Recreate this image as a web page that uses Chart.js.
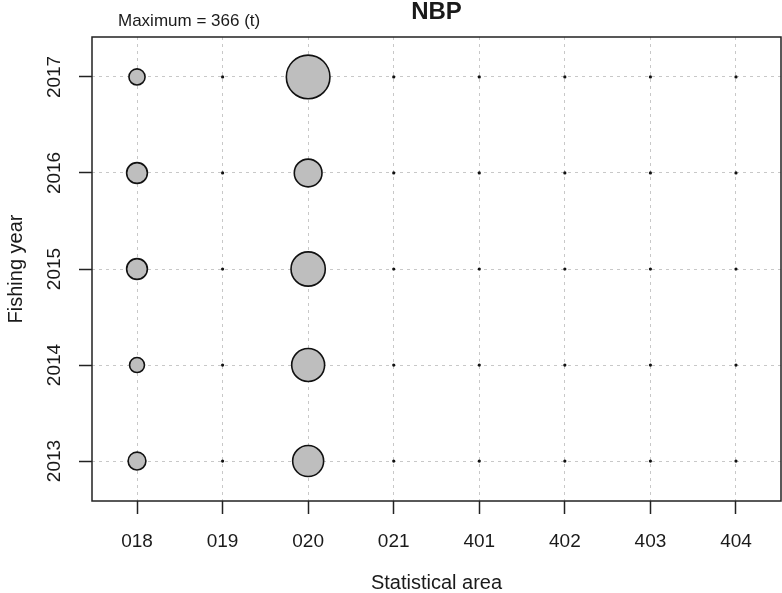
<!DOCTYPE html>
<html>
<head>
<meta charset="utf-8">
<script src="https://cdn.jsdelivr.net/npm/chart.js@4/dist/chart.umd.min.js"></script>
<style>
    body { margin: 0; background: #fff; }
    #wrap { width: 782px; height: 593px; }
</style>
</head>
<body>
<div id="wrap"><canvas id="myChart" width="782" height="593"></canvas></div>
<script>
// Dades: captura (t) per àrea estadística i any de pesca
const areas = ['018', '019', '020', '021', '401', '402', '403', '404'];
const years = [2013, 2014, 2015, 2016, 2017];

// un array per àrea, valors de 2013 a 2017
const area018 = [61, 43, 83, 83, 50];
const area019 = [0, 0, 0, 0, 0];
const area020 = [185, 209, 226, 148, 366];
const area021 = [0, 0, 0, 0, 0];
const area401 = [0, 0, 0, 0, 0];
const area402 = [0, 0, 0, 0, 0];
const area403 = [0, 0, 0, 0, 0];
const area404 = [0, 0, 0, 0, 0];

const catchByArea = [area018, area019, area020, area021, area401, area402, area403, area404];

const maxCatch = Math.max(...catchByArea.flat());
const maxRadius = 21.8; // radi del cercle més gran

const TEXT = '#1a1a1a';
const FONT = '"Liberation Sans", Arial, sans-serif';

// Construïm els punts per al gràfic de bombolles
const points = [];
catchByArea.forEach((values, i) => {
    values.forEach((v, j) => {
        points.push({
            x: i + 1,
            y: years[j],
            v: v,
            r: v > 0 ? maxRadius * Math.sqrt(v / maxCatch) : 1.6
        });
    });
});

// El controlador de bombolles afegeix marge pel radi màxim; aquí no el volem
const BubbleCtrl = Chart.registry.getController('bubble');
BubbleCtrl.prototype.getMaxOverflow = () => 0;

// Textos que R dibuixa als marges
const marginText = {
    id: 'marginText',
    afterDraw: (chart) => {
        const ctx = chart.ctx;
        const area = chart.chartArea;
        ctx.save();

        // caixa del gràfic
        ctx.strokeStyle = '#222';
        ctx.lineWidth = 1.5;
        ctx.strokeRect(area.left, area.top, area.right - area.left, area.bottom - area.top);

        ctx.fillStyle = TEXT;
        ctx.textBaseline = 'alphabetic';

        ctx.font = 'bold 24px ' + FONT;
        ctx.textAlign = 'center';
        ctx.fillText('NBP', (area.left + area.right) / 2, 19);

        ctx.font = '17px ' + FONT;
        ctx.textAlign = 'left';
        ctx.fillText('Maximum = ' + maxCatch + ' (t)', 118, 26);

        ctx.font = '20px ' + FONT;
        ctx.textAlign = 'center';
        ctx.fillText('Statistical area', (area.left + area.right) / 2, 589);

        ctx.translate(22, (area.top + area.bottom) / 2);
        ctx.rotate(-Math.PI / 2);
        ctx.fillText('Fishing year', 0, 0);
        ctx.restore();
    }
};

const gridOpts = {
    color: '#c8c8c8',
    lineWidth: 1,
    drawTicks: true,
    tickLength: 13,
    tickColor: '#222',
    tickWidth: 1.5,
    tickBorderDash: []
};

const ctx = document.getElementById('myChart').getContext('2d');
const chart = new Chart(ctx, {
    type: 'bubble',
    data: {
        datasets: [{
            label: 'Catch',
            data: points,
            backgroundColor: (c) => (c.raw && c.raw.v > 0 ? '#bebebe' : '#111'),
            borderColor: '#111',
            borderWidth: (c) => (c.raw && c.raw.v > 0 ? 1.6 : 0)
        }]
    },
    options: {
        responsive: false,
        animation: false,
        events: [],
        layout: { padding: { top: 37, right: 1, left: 0, bottom: 0 } },
        plugins: {
            legend: { display: false },
            tooltip: { enabled: false }
        },
        scales: {
            x: {
                type: 'linear',
                min: 0.474,
                max: 8.526,
                afterBuildTicks: (scale) => {
                    scale.ticks = areas.map((a, i) => ({ value: i + 1 }));
                },
                afterFit: (scale) => {
                    scale.height = 92;
                    // sense marge extra per les etiquetes dels extrems
                    scale.paddingLeft = 0;
                    scale.paddingRight = 0;
                },
                grid: gridOpts,
                border: { display: false, dash: [3, 4] },
                ticks: {
                    autoSkip: false,
                    maxRotation: 0,
                    padding: 16,
                    color: TEXT,
                    font: { family: FONT, size: 19 },
                    callback: (v) => areas[v - 1]
                }
            },
            y: {
                type: 'linear',
                min: 2012.584,
                max: 2017.416,
                afterBuildTicks: (scale) => {
                    scale.ticks = years.map((y) => ({ value: y }));
                },
                afterFit: (scale) => {
                    scale.width = 92;
                    scale.paddingTop = 0;
                    scale.paddingBottom = 0;
                },
                grid: gridOpts,
                border: { display: false, dash: [3, 4] },
                ticks: {
                    autoSkip: false,
                    minRotation: 90,
                    maxRotation: 90,
                    crossAlign: 'center',
                    padding: 3,
                    color: TEXT,
                    font: { family: FONT, size: 19 },
                    callback: (v) => String(v)
                }
            }
        }
    },
    plugins: [marginText]
});
</script>
</body>
</html>
